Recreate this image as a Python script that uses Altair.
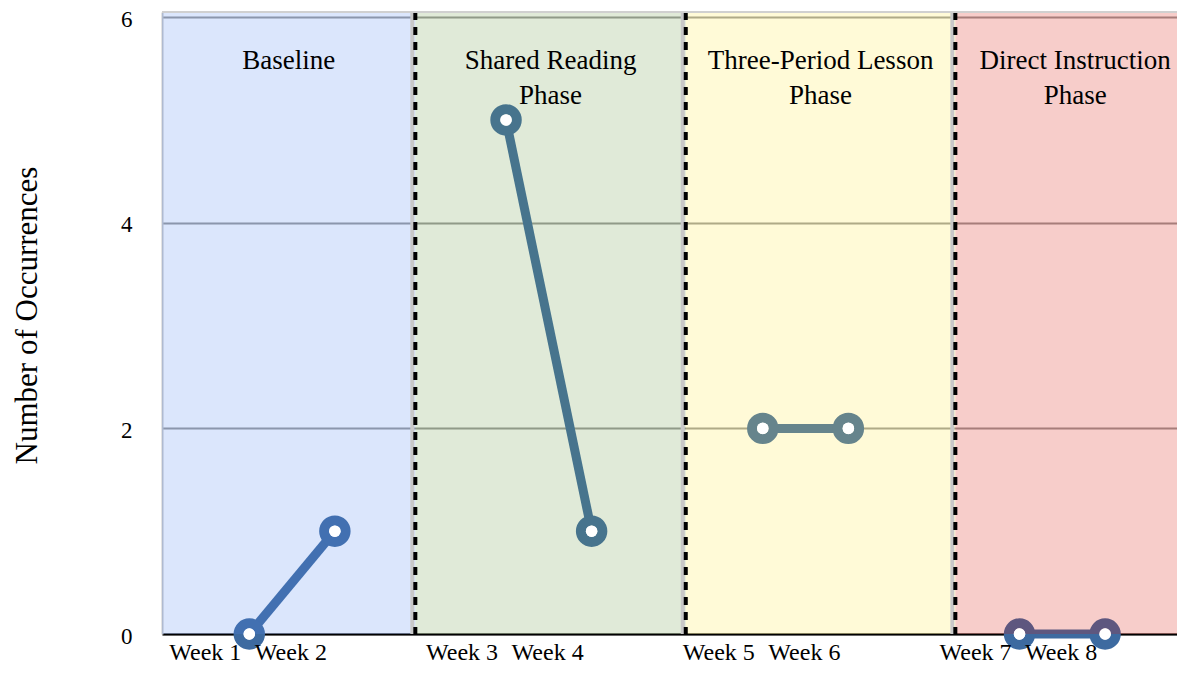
import altair as alt
import pandas as pd

# ---- data ----
weeks = ["Week 1", "Week 2", "Week 3", "Week 4", "Week 5", "Week 6", "Week 7", "Week 8"]
week_pos = [1, 2, 4, 5, 7, 8, 10, 11]
week_phase = ["Baseline", "Baseline", "Shared Reading", "Shared Reading",
              "Three-Period Lesson", "Three-Period Lesson",
              "Direct Instruction", "Direct Instruction"]
occurrences = [0, 1, 5, 1, 2, 2, 0, 0]

phase_names = ["Baseline", "Shared Reading", "Three-Period Lesson", "Direct Instruction"]
phase_titles = ["Baseline", "Shared Reading\nPhase", "Three-Period Lesson\nPhase",
                "Direct Instruction\nPhase"]
phase_start = [-0.02, 2.94, 6.10, 9.25]
phase_end = [2.94, 6.10, 9.25, 12.05]
phase_colors = ["#5387f0", "#6b9b45", "#ffe740", "#d91507"]

y_ticks = [0, 2, 4, 6]
y_top = 6.05
x_domain = [-0.02, 11.84]
phase_label_y = 5.5
week_label_y = -0.255

FONT = "Liberation Serif"
LINE_COLOR = "#3d6aa0"

pts = pd.DataFrame({"week": weeks, "pos": week_pos, "phase": week_phase, "n": occurrences})
bands = pd.DataFrame({"phase": phase_names, "title": phase_titles,
                      "start": phase_start, "end": phase_end,
                      "mid": [(a + b) / 2 for a, b in zip(phase_start, phase_end)],
                      "top": [y_top] * 4, "bottom": [0] * 4, "ly": [phase_label_y] * 4})
bounds = pd.DataFrame({"b": phase_start[1:], "y0": [0] * 3, "y1": [y_top] * 3})
frame = pd.DataFrame({"x0": [phase_start[0]], "x1": [phase_end[-1]], "y": [y_top]})
wl = pts.assign(ly=week_label_y)

xs = alt.Scale(domain=x_domain, nice=False, zero=False)
ys = alt.Scale(domain=[0, y_top], nice=False, zero=False)

x_axis = alt.Axis(labels=False, ticks=False, grid=False, title=None,
                  domainColor="black", domainWidth=2)
y_axis = alt.Axis(values=y_ticks, format="d", ticks=False, grid=True, gridColor="#9a9a9a",
                  gridWidth=2, domainColor="#c8c8c8", domainWidth=2, labelFont=FONT,
                  labelFontSize=23, labelColor="black", labelPadding=30, labelOffset=2,
                  title="Number of Occurrences",
                  titleFont=FONT, titleFontSize=31, titleFontWeight="normal", titleColor="black",
                  titleBaseline="alphabetic", titleX=-126, titleY=303, titleAngle=270,
                  titleAlign="center")

line = alt.Chart(pts).mark_line(color=LINE_COLOR, strokeWidth=9, clip=False).encode(
    x=alt.X("pos:Q", scale=xs, axis=x_axis),
    y=alt.Y("n:Q", scale=ys, axis=y_axis),
    detail="phase:N",
)
points = alt.Chart(pts).mark_point(shape="circle", filled=False, fill="white", fillOpacity=1,
                                   stroke=LINE_COLOR, strokeWidth=10, size=460, opacity=1,
                                   clip=False).encode(
    x=alt.X("pos:Q", scale=xs), y=alt.Y("n:Q", scale=ys))

band = alt.Chart(bands).mark_rect(opacity=0.21).encode(
    x=alt.X("start:Q", scale=xs), x2="end:Q",
    y=alt.Y("bottom:Q", scale=ys), y2="top:Q",
    color=alt.Color("phase:N", scale=alt.Scale(domain=phase_names, range=phase_colors),
                    legend=None),
)
holes = alt.Chart(pts).mark_circle(color="white", opacity=1, size=133, clip=False).encode(
    x=alt.X("pos:Q", scale=xs), y=alt.Y("n:Q", scale=ys))

gray_rules = alt.Chart(bounds).mark_rule(color="#c8c8c8", strokeWidth=4, xOffset=-3).encode(
    x=alt.X("b:Q", scale=xs), y=alt.Y("y0:Q", scale=ys), y2="y1:Q")
dash_rules = alt.Chart(bounds).mark_rule(color="black", strokeWidth=4, strokeDash=[8, 7],
                                         strokeCap="butt").encode(
    x=alt.X("b:Q", scale=xs), y=alt.Y("y1:Q", scale=ys), y2="y0:Q")
top_rule = alt.Chart(frame).mark_rule(color="#d0d0d0", strokeWidth=2).encode(
    x=alt.X("x0:Q", scale=xs), x2="x1:Q", y=alt.Y("y:Q", scale=ys))

phase_text = alt.Chart(bands).mark_text(font=FONT, fontSize=27, color="black",
                                        baseline="alphabetic", align="center",
                                        lineBreak="\n", lineHeight=35).encode(
    x=alt.X("mid:Q", scale=xs), y=alt.Y("ly:Q", scale=ys), text="title:N")
week_text = alt.Chart(wl).mark_text(font=FONT, fontSize=24, color="black",
                                    baseline="alphabetic", align="center", dx=-44).encode(
    x=alt.X("pos:Q", scale=xs), y=alt.Y("ly:Q", scale=ys), text="week:N")

chart = alt.layer(line, points, band, holes, gray_rules, dash_rules, top_rule,
                  phase_text, week_text).properties(
    width=1015, height=622,
    autosize=alt.AutoSizeParams(type="none"),
    padding={"left": 154, "top": 4, "right": 0, "bottom": 32},
).configure_view(stroke=None).configure(background="white")

chart.save("out.html", embed_options={"renderer": "svg", "actions": False})
